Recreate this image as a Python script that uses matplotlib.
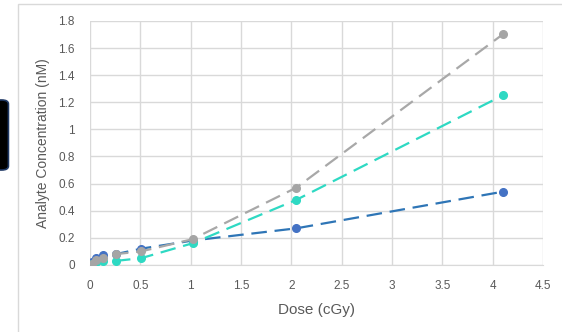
import matplotlib.pyplot as plt
from matplotlib.patches import FancyBboxPatch, Rectangle

dose = [0.02, 0.06, 0.13, 0.26, 0.51, 1.02, 2.05, 4.1]
blue = [0.02, 0.05, 0.07, 0.08, 0.12, 0.18, 0.27, 0.54]
teal = [0.01, 0.02, 0.03, 0.03, 0.05, 0.16, 0.48, 1.25]
grey = [0.01, 0.04, 0.05, 0.08, 0.10, 0.19, 0.57, 1.70]
xticks = [0, 0.5, 1, 1.5, 2, 2.5, 3, 3.5, 4, 4.5]
yticks = [0, 0.2, 0.4, 0.6, 0.8, 1, 1.2, 1.4, 1.6, 1.8]

plt.rcParams['font.family'] = ['Liberation Sans', 'DejaVu Sans']
fig = plt.figure(figsize=(5.62, 3.32), dpi=100)
ax = fig.add_axes([0.160, 0.202, 0.806, 0.735])

# chart frame and the dark tab at the left edge
fig.patches.append(Rectangle((18/562, -0.1), 1.1, 1 - 4/332 + 0.1, transform=fig.transFigure,
                             fill=False, edgecolor='#d9d9d9', lw=1))
fig.patches.append(FancyBboxPatch((-0.02, 1 - 170/332), 0.035, 70/332, transform=fig.transFigure,
                                  boxstyle='round,pad=0,rounding_size=0.012',
                                  facecolor='black', edgecolor='#1f3864', lw=1.2))

for vals, lc, mc in [(blue, '#2e75b6', '#4472c4'), (teal, '#2ed9c3', '#2ed9c3'), (grey, '#a8a8a8', '#a5a5a5')]:
    ax.plot(dose, vals, color=lc, lw=1.6, linestyle=(0, (7, 3.5)), marker='o',
            markersize=5.5, markerfacecolor=mc, markeredgecolor=mc, zorder=3)

ax.set_xlim(0, 4.5)
ax.set_ylim(0, 1.8)
ax.set_xticks(xticks)
ax.set_xticklabels([f'{t:g}' for t in xticks])
ax.set_yticks(yticks)
ax.set_yticklabels([f'{t:g}' for t in yticks])
ax.grid(True, color='#d9d9d9', lw=1)
ax.set_axisbelow(True)
for s in ['top', 'right', 'left']:
    ax.spines[s].set_visible(False)
ax.spines['bottom'].set_color('#d9d9d9')
ax.tick_params(axis='x', length=0, labelsize=8.5, colors='#595959', pad=11)
ax.tick_params(axis='y', length=0, labelsize=8.5, colors='#595959', pad=11)
ax.set_xlabel('Dose (cGy)', fontsize=11, color='#595959', labelpad=8)
ax.set_ylabel('Analyte Concentration (nM)', fontsize=10, color='#595959', labelpad=6)

fig.savefig('out.png', dpi=100)
